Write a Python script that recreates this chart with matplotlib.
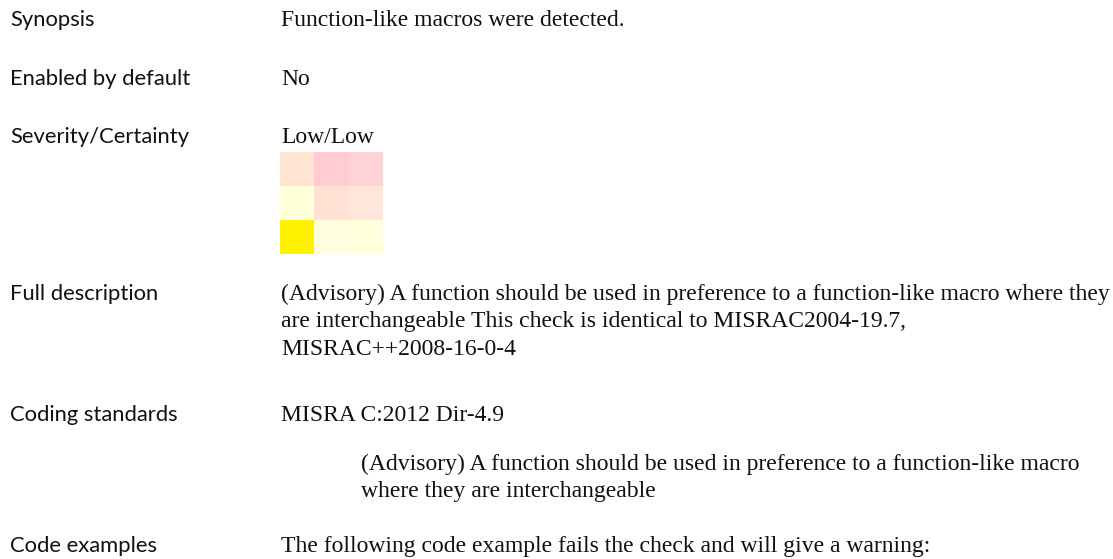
import matplotlib.pyplot as plt
from matplotlib.colors import to_rgb
import numpy as np

# ========== 数据 ==========
labels = ["Synopsis", "Enabled by default", "Severity/Certainty",
          "Full description", "Coding standards", "Code examples"]
label_y = [26, 85, 143, 300, 421, 552]   # 基线位置（像素）

synopsis = "Function-like macros were detected."
enabled = "No"
severity = "Low/Low"
full_desc = [
    "(Advisory) A function should be used in preference to a function-like macro where they",
    "are interchangeable This check is identical to MISRAC2004-19.7,",
    "MISRAC++2008-16-0-4",
]
standard = "MISRA C:2012 Dir-4.9"
standard_desc = [
    "(Advisory) A function should be used in preference to a function-like macro",
    "where they are interchangeable",
]
code_examples = "The following code example fails the check and will give a warning:"

# 严重性/确定性 3x3 色块
grid_colors = [
    ["#FFE4D2", "#FFCCD2", "#FFD2D6"],
    ["#FFFFD8", "#FFE2D4", "#FFE6DA"],
    ["#FFF200", "#FFFFE0", "#FFFFDC"],
]

# ========== 画图 ==========
W, H = 1113, 559
fig = plt.figure(figsize=(W / 100, H / 100), dpi=100)
ax = fig.add_axes([0, 0, 1, 1])

sans = dict(family=["Lato", "DejaVu Sans"], fontsize=15.8, color="#111111", va="baseline")
serif = dict(family=["Liberation Serif", "DejaVu Serif"], fontsize=17, color="#111111", va="baseline")

for lab, y in zip(labels, label_y):
    ax.text(10, y, lab, **sans)

col = 281
ax.text(col, label_y[0], synopsis, **serif)
ax.text(col, label_y[1], enabled, **serif)
ax.text(col, label_y[2], severity, **serif)

for i, line in enumerate(full_desc):
    ax.text(col, label_y[3] + i * 27.5, line, **serif)

ax.text(col, label_y[4], standard, **serif)
for i, line in enumerate(standard_desc):
    ax.text(361, 470 + i * 26.5, line, **serif)

ax.text(col, label_y[5], code_examples, **serif)

# 色块
rgb = np.array([[to_rgb(c) for c in row] for row in grid_colors])
ax.imshow(rgb, extent=(280, 383, 254, 152), interpolation="nearest", aspect="auto")
ax.set_xlim(0, W)
ax.set_ylim(H, 0)
ax.axis("off")

plt.savefig("out.png", dpi=100)
